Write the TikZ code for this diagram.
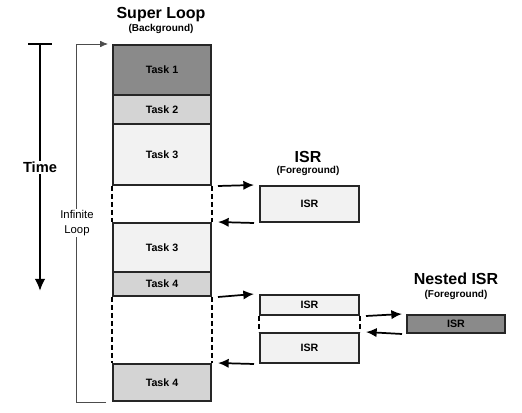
\documentclass[tikz,border=0pt]{standalone}
\usepackage{fontspec}
\setmainfont{Liberation Sans}
\usetikzlibrary{arrows.meta,positioning}
\definecolor{darktask}{HTML}{8A8A8A}
\definecolor{midtask}{HTML}{D4D4D4}
\definecolor{lighttask}{HTML}{F2F2F2}
\begin{document}
\begin{tikzpicture}
	[
	x=0.75pt, y=-0.75pt, >={Latex[length=8pt,width=7pt]},
	%Voreinstellung für Kästen
	task/.style={draw=black!85, line width=1.5pt, minimum width=98*0.75pt, inner sep=0pt, font=\bfseries\fontsize{8}{9}\selectfont},
	title/.style={font=\bfseries\fontsize{12}{13}\selectfont, inner sep=0pt},
	subtitle/.style={font=\bfseries\fontsize{7.5}{8}\selectfont, inner sep=0pt},
	arr/.style={->, line width=1.3pt},
	gap/.style={line width=1.3pt, dash pattern=on 3.75pt off 2.25pt}
	]
	
	%Rahmen
	\useasboundingbox (0,0) rectangle (522,413);
	
	%Titel
	\node[title] (sl) at (161,15) {Super Loop};
	\node[subtitle] (slsub) at (161,29) {(Background)};
	\node[title] (isrt) at (308,157) {ISR};
	\node[subtitle] (isrsub) at (308,171) {(Foreground)};
	\node[title] (nt) at (456,279) {Nested ISR};
	\node[subtitle] (ntsub) at (456,295) {(Foreground)};
	
	%Super Loop
	\node[task, fill=darktask, minimum height=50*0.75pt] (t1) at (162,70) {Task 1};
	\node[task, fill=midtask, minimum height=29*0.75pt] (t2) at (162,109.5) {Task 2};
	\node[task, fill=lighttask, minimum height=61*0.75pt] (t3a) at (162,154.5) {Task 3};
	\node[task, fill=lighttask, minimum height=49*0.75pt] (t3b) at (162,247.5) {Task 3};
	\node[task, fill=midtask, minimum height=24*0.75pt] (t4a) at (162,284) {Task 4};
	\node[task, fill=midtask, minimum height=37*0.75pt] (t4b) at (162,382.5) {Task 4};
	
	%Unterbrechungen
	\draw[gap] (t3a.south west) -- (t3b.north west);
	\draw[gap] (t3a.south east) -- (t3b.north east);
	\draw[gap] (t4a.south west) -- (t4b.north west);
	\draw[gap] (t4a.south east) -- (t4b.north east);
	
	%ISR
	\node[task, fill=lighttask, minimum width=99*0.75pt, minimum height=36*0.75pt] (isr1) at (309.5,204) {ISR};
	\node[task, fill=lighttask, minimum width=99*0.75pt, minimum height=20*0.75pt] (isr2a) at (309.5,305) {ISR};
	\node[task, fill=lighttask, minimum width=99*0.75pt, minimum height=30*0.75pt] (isr2b) at (309.5,348) {ISR};
	\draw[gap] (isr2a.south west) -- (isr2b.north west);
	\draw[gap] (isr2a.south east) -- (isr2b.north east);
	
	%Nested ISR
	\node[task, fill=darktask, minimum height=18*0.75pt] (nisr) at (456,324) {ISR};
	
	%Pfeile
	\draw[arr] ([xshift=6*0.75pt]t3a.south east) -- ([xshift=-5*0.75pt]isr1.north west);
	\draw[arr] ([xshift=-5*0.75pt]isr1.south west) -- ([xshift=6*0.75pt]t3b.north east);
	\draw[arr] ([xshift=6*0.75pt]t4a.south east) -- ([xshift=-5*0.75pt]isr2a.north west);
	\draw[arr] ([xshift=-5*0.75pt]isr2b.south west) -- ([xshift=6*0.75pt]t4b.north east);
	\draw[arr] ([xshift=6*0.75pt]isr2a.south east) -- ([xshift=-4*0.75pt]nisr.north west);
	\draw[arr] ([xshift=-4*0.75pt]nisr.south west) -- ([xshift=6*0.75pt]isr2b.north east);
	
	%Zeitachse
	\coordinate (ttop) at (40,44);
	\coordinate (tbot) at (40,291);
	\draw[line width=1.5pt] ([xshift=-12*0.75pt]ttop) -- ([xshift=12*0.75pt]ttop);
	\draw[->, line width=2pt, >={Latex[length=9pt,width=8pt]}] (ttop) -- (tbot) node[midway, fill=white, inner sep=1pt, font=\bfseries\fontsize{11}{12}\selectfont] (time) {Time};
	
	%Endlosschleife
	\draw[->, gray!60!black, line width=0.6pt, >={Latex[length=6pt,width=5pt]}] ([xshift=-6*0.75pt]t4b.south west) -- ++(-30,0) |- ([xshift=-4*0.75pt]t1.north west);
	\node[fill=white, align=center, inner sep=1pt, font=\fontsize{8.5}{11}\selectfont] (inf) at (77,223) {Infinite\\Loop};
\end{tikzpicture}
\end{document}
